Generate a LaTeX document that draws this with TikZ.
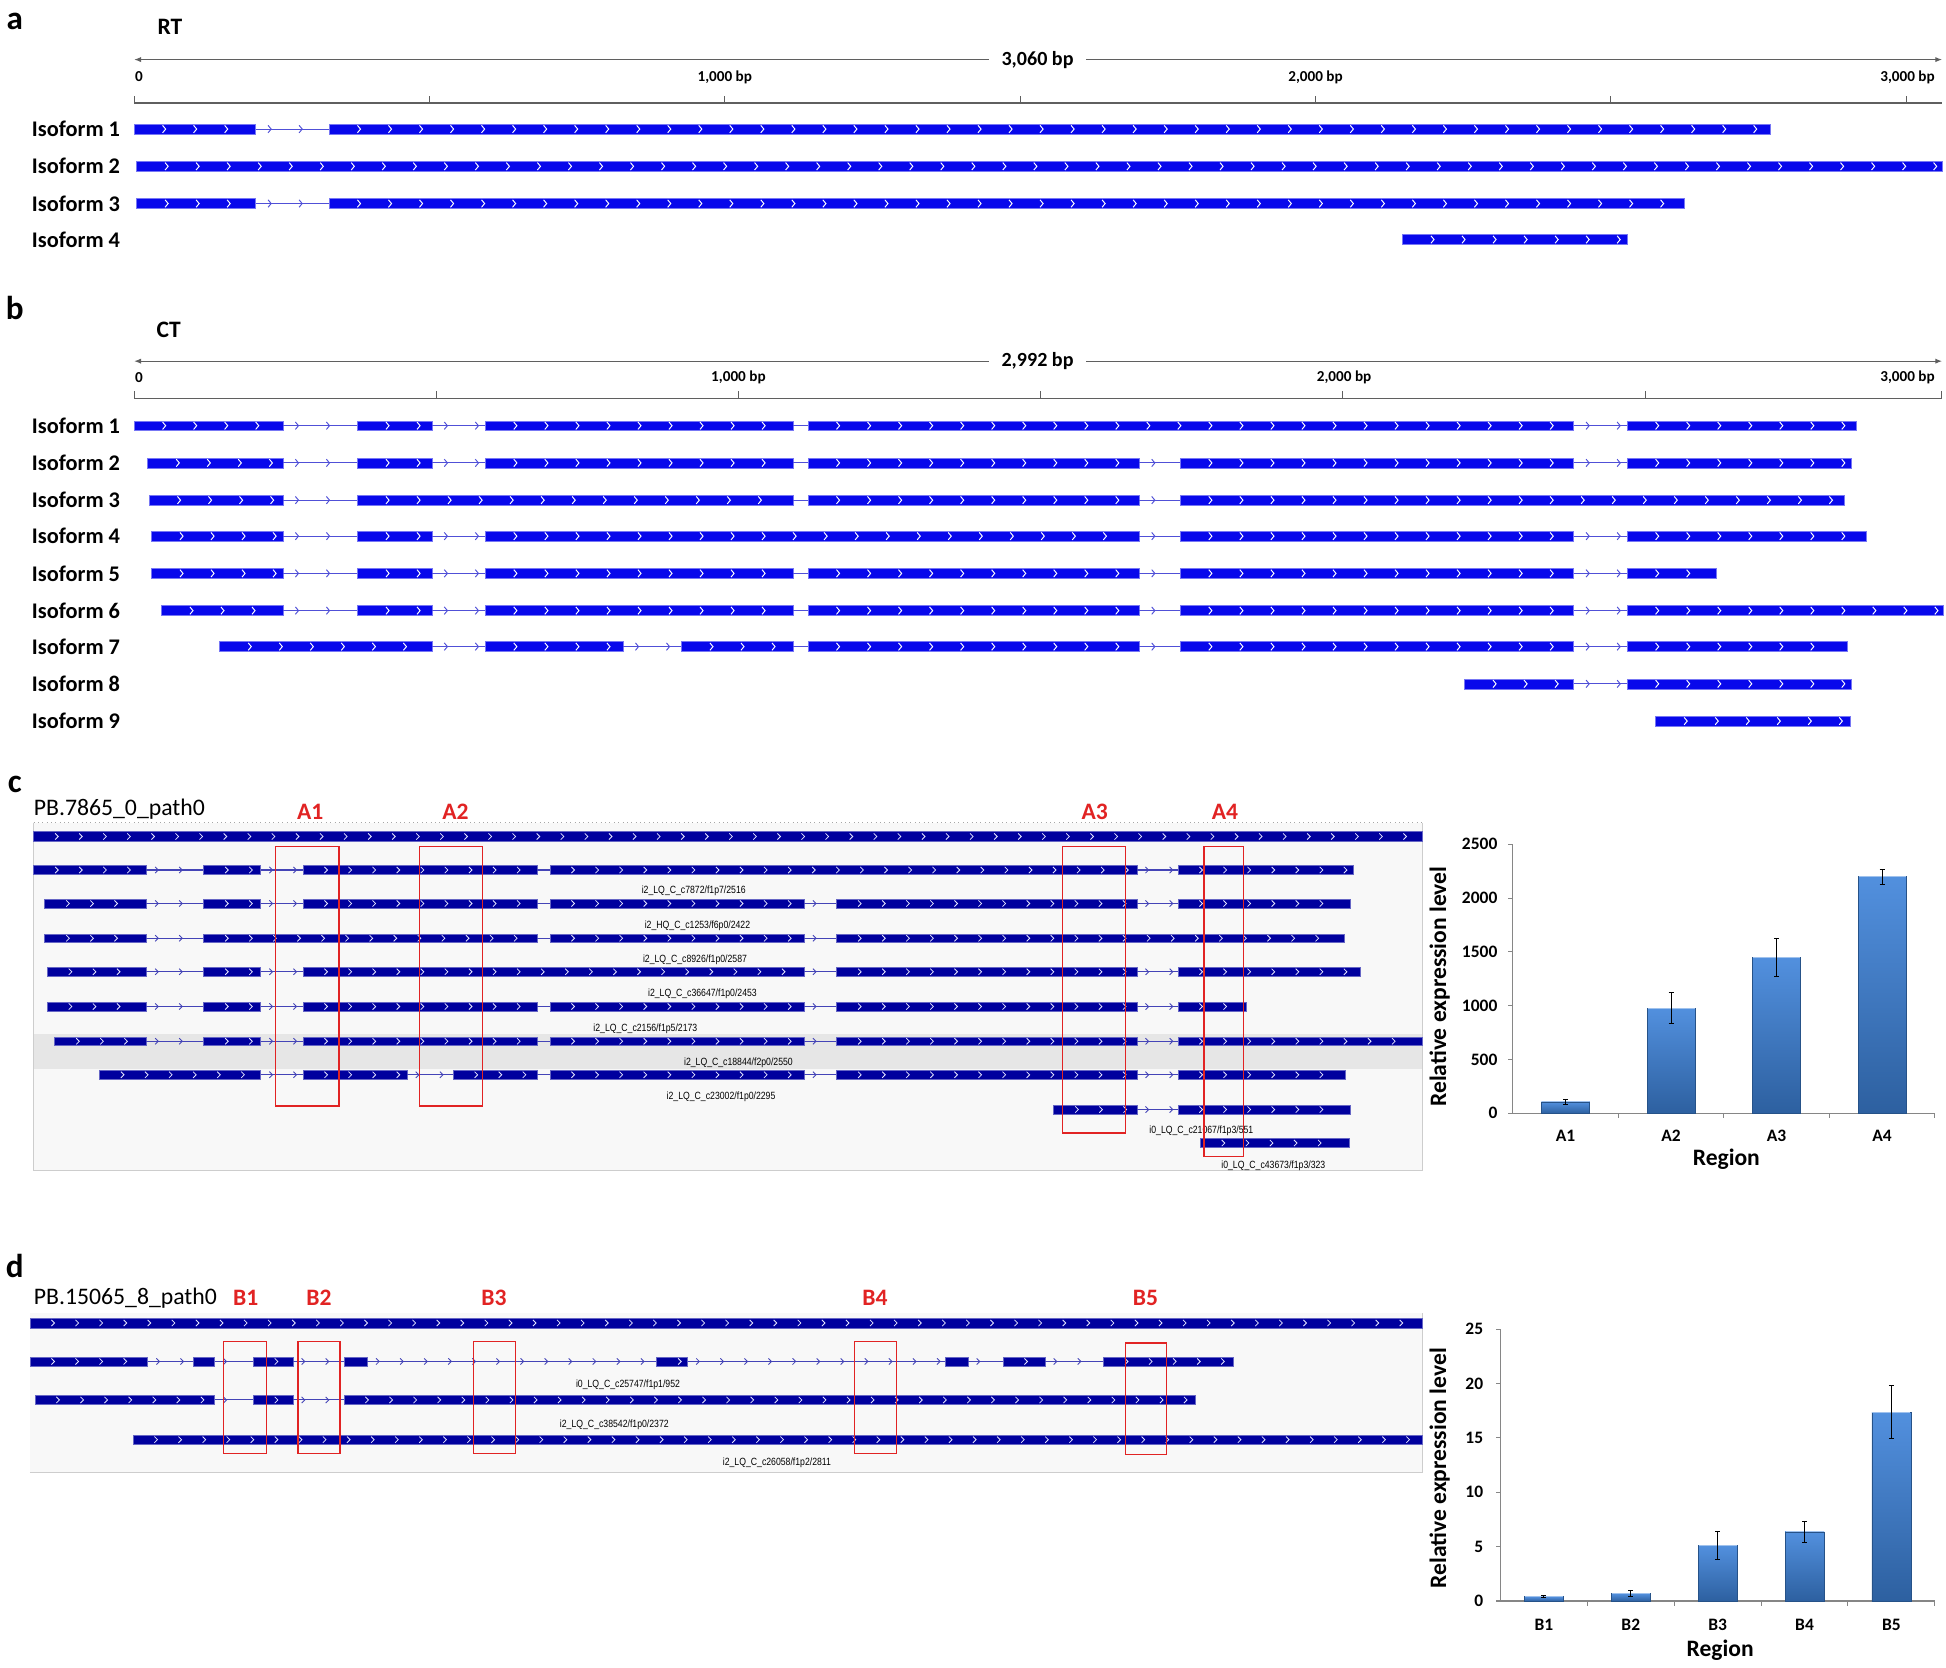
\documentclass[tikz,border=0pt]{standalone}
\usepackage{fontspec}
\setmainfont{Carlito}
\newfontfamily\narrowfont[FakeStretch=0.83]{Liberation Sans}
\usepackage{xcolor}
\usepackage{tikz}
\usetikzlibrary{arrows.meta}

\definecolor{isoblue}{RGB}{8,8,235}
\definecolor{intronblue}{RGB}{80,80,215}
\definecolor{trackblue}{RGB}{0,0,158}
\definecolor{trackbg}{RGB}{248,248,248}
\definecolor{trackband}{RGB}{230,230,230}
\definecolor{trackline}{RGB}{205,205,205}
\definecolor{boxred}{RGB}{225,35,35}
\definecolor{axisgray}{RGB}{95,95,95}
\definecolor{chartgray}{RGB}{134,134,134}
\definecolor{bartopc}{RGB}{82,144,222}
\definecolor{barbotc}{RGB}{45,96,160}

%% one exon: start, end, row
\newcommand{\exon}[3]{%
  \fill[exbar] (#1,{#3-\exh}) rectangle (#2,{#3+\exh});
  \pgfmathtruncatemacro{\nch}{floor((#2-#1-5)/\chsp)}%
  \ifnum\nch>0
    \foreach \k in {1,...,\nch}{%
      \draw[chev] ({#1+\chsp*\k-2},{#3-\chh}) -- ++(2.5,\chh) -- ++(-2.5,\chh);}%
  \fi}
%% one intron: start, end, row
\newcommand{\intron}[3]{%
  \draw[intronline] (#1,#3) -- (#2,#3);
  \pgfmathtruncatemacro{\nch}{floor((#2-#1-\choff-4)/\chsp)}%
  \ifnum\nch<0\relax\else
    \foreach \k in {0,...,\nch}{%
      \draw[chevin] ({#1+\choff+\chsp*\k-1},{#3-\chh}) -- ++(2.5,\chh) -- ++(-2.5,\chh);}%
  \fi}
%% a whole isoform: row, exon list s/e (introns fill the gaps)
\newcommand{\isoform}[2]{%
  \gdef\prevend{}%
  \foreach \s/\e in {#2}{%
    \ifx\prevend\empty\else\intron{\prevend}{\s}{#1}\fi
    \exon{\s}{\e}{#1}%
    \xdef\prevend{\e}}}

\tikzset{
  panellbl/.style={font=\fontsize{19}{21}\selectfont\bfseries, inner sep=0pt},
  grouplbl/.style={font=\fontsize{13.5}{15}\selectfont\bfseries, inner sep=0pt},
  isolbl/.style={font=\fontsize{12.8}{14}\selectfont\bfseries, anchor=east, inner sep=0pt},
  bplbl/.style={font=\fontsize{8.7}{10}\selectfont\bfseries, inner sep=0pt},
  lenlbl/.style={font=\fontsize{11.5}{13}\selectfont\bfseries, fill=white, inner xsep=7pt, inner ysep=1pt},
  pathlbl/.style={font=\fontsize{13.6}{15}\selectfont, anchor=west, inner sep=0pt},
  regionlbl/.style={font=\fontsize{13.5}{15}\selectfont\bfseries, text=boxred, inner sep=0pt},
  readlbl/.style={font=\narrowfont\fontsize{6}{7}\selectfont, inner sep=0pt},
  ticklbl/.style={font=\fontsize{10}{12}\selectfont\bfseries, anchor=east, inner sep=0pt},
  catlbl/.style={font=\fontsize{10}{12}\selectfont\bfseries, inner sep=0pt},
  axttl/.style={font=\fontsize{13.5}{15}\selectfont\bfseries, inner sep=0pt},
  lenaxis/.style={draw=axisgray, line width=0.7pt, {Latex[length=4pt,width=3pt]}-{Latex[length=4pt,width=3pt]}},
  scaleline/.style={draw=axisgray, line width=1pt},
  scaletick/.style={draw=axisgray, line width=0.5pt},
  exbar/.style={fill=isoblue, draw=isoblue!55!white, line width=0.25pt},
  chev/.style={draw=white, line width=0.55pt},
  intronline/.style={draw=intronblue, line width=0.6pt},
  chevin/.style={draw=intronblue, line width=0.55pt},
  redbox/.style={draw=boxred, line width=0.8pt},
  chartaxis/.style={draw=chartgray, line width=0.6pt},
  bar/.style={top color=bartopc, bottom color=barbotc, draw=barbotc!85!black, line width=0.3pt},
  bartop/.style={draw=bartopc!55!white, line width=0.6pt},
  errbar/.style={draw=black, line width=0.6pt},
}

\begin{document}
\begin{tikzpicture}[x=0.025cm, y=-0.025cm]
  \useasboundingbox (0,0) rectangle (1568,1344);
  \def\chsp{25}\def\choff{11}\def\exh{4}\def\chh{3}

  %% ---- a: RT isoforms
  \node[panellbl] (a) at (12,17) {a};
  \node[grouplbl] (rt) at (137,22) {RT};
  \draw[lenaxis] (108,48) -- (1565,48);
  \node[lenlbl] (rtlen) at (836,48) {3,060 bp};
  \draw[scaleline] (108,83) -- (1565,83);
  \foreach \t in {108,346,584,822,1060,1298,1536}
    \draw[scaletick] (\t,83) -- (\t,77);
  \node[bplbl] (rt0) at (112,62) {0};
  \node[bplbl] (rt1k) at (584,62) {1,000 bp};
  \node[bplbl] (rt2k) at (1060,62) {2,000 bp};
  \node[bplbl] (rt3k) at (1537,62) {3,000 bp};
  \foreach \i/\y in {1/104,2/134,3/164,4/193}
    \node[isolbl] (rtiso\i) at (97,\y) {Isoform \i};
  \isoform{104}{108/206,265/1426}
  \isoform{134}{110/1565}
  \isoform{164}{110/206,265/1357}
  \isoform{193}{1130/1311}

  %% ---- b: CT isoforms
  \node[panellbl] (b) at (12,248) {b};
  \node[grouplbl] (ct) at (136,266) {CT};
  \draw[lenaxis] (108,291) -- (1565,291);
  \node[lenlbl] (ctlen) at (836,291) {2,992 bp};
  \draw[scaleline] (108,321) -- (1565,321);
  \foreach \t in {108,351.5,595,838.5,1082,1325.5,1564}
    \draw[scaletick] (\t,321) -- (\t,315);
  \node[bplbl] (ct0) at (112,304) {0};
  \node[bplbl] (ct1k) at (595,304) {1,000 bp};
  \node[bplbl] (ct2k) at (1083,304) {2,000 bp};
  \node[bplbl] (ct3k) at (1537,304) {3,000 bp};
  \foreach \i/\y in {1/343,2/373,3/403,4/432,5/462,6/492,7/521,8/551,9/581}
    \node[isolbl] (ctiso\i) at (97,\y) {Isoform \i};
  \isoform{343}{108/228,288/348,391/639,651/1268,1311/1496}
  \isoform{373}{119/228,288/348,391/639,651/918,951/1268,1311/1492}
  \isoform{403}{120/228,288/639,651/918,951/1486}
  \isoform{432}{122/228,288/348,391/918,951/1268,1311/1504}
  \isoform{462}{122/228,288/348,391/639,651/918,951/1268,1311/1383}
  \isoform{492}{130/228,288/348,391/639,651/918,951/1268,1311/1566}
  \isoform{521}{177/348,391/502,549/639,651/918,951/1268,1311/1488}
  \isoform{551}{1180/1268,1311/1492}
  \isoform{581}{1334/1491}

  %% ---- c: PB.7865 reads and A regions
  \node[panellbl] (c) at (12,632) {c};
  \node[pathlbl] (pbc) at (27,652) {PB.7865\_0\_path0};
  \foreach \n/\x in {1/250,2/367,3/882,4/987}
    \node[regionlbl] (la\n) at (\x,654) {A\n};
  \fill[trackbg] (27,663) rectangle (1146,943);
  \fill[trackband] (27,833) rectangle (1146,861);
  \draw[trackline] (27,663) -- (27,943) -- (1146,943) -- (1146,663);
  \draw[gray!70, dotted, line width=0.5pt] (27,663) -- (1146,663);
  \begin{scope}[exbar/.style={fill=trackblue, draw=trackblue!60!white, line width=0.25pt},
                chev/.style={draw=white!90!blue, line width=0.45pt},
                intronline/.style={draw=intronblue!85!black, line width=0.6pt},
                chevin/.style={draw=intronblue!85!black, line width=0.5pt}]
    \def\chsp{19.4}\def\choff{8}\def\exh{3.5}\def\chh{2.5}
    {\def\exh{4.2}\exon{27}{1146}{674}}
    \isoform{701}{27/118,164/210,244/433,443/916,949/1090}
    \isoform{728}{36/118,164/210,244/433,443/648,674/916,949/1088}
    \isoform{756}{36/118,164/433,443/648,674/1083}
    \isoform{783}{38/118,164/210,244/648,674/916,949/1096}
    \isoform{811}{38/118,164/210,244/433,443/648,674/916,949/1004}
    \isoform{839}{44/118,164/210,244/433,443/648,674/916,949/1146}
    \isoform{866}{80/210,244/328,365/433,443/648,674/916,949/1084}
    \isoform{894}{849/916,949/1088}
    \isoform{921}{967/1087}

    %% panel d tracks share the look
    \fill[trackbg] (24,1058) rectangle (1146,1186);
    \draw[trackline] (24,1186) -- (1146,1186) -- (1146,1058);
    {\def\exh{4.2}\exon{24}{1146}{1066}}
    \isoform{1097}{24/119,156/173,204/236,277/296,529/554,762/780,808/842,889/994}
    \isoform{1128}{28/173,204/236,277/963}
    \isoform{1160}{107/1146}
  \end{scope}
  \node[readlbl] (rc1) at (559,718) {i2\_LQ\_C\_c7872/f1p7/2516};
  \node[readlbl] (rc2) at (562,746) {i2\_HQ\_C\_c1253/f6p0/2422};
  \node[readlbl] (rc3) at (560,773) {i2\_LQ\_C\_c8926/f1p0/2587};
  \node[readlbl] (rc4) at (566,801) {i2\_LQ\_C\_c36647/f1p0/2453};
  \node[readlbl] (rc5) at (520,829) {i2\_LQ\_C\_c2156/f1p5/2173};
  \node[readlbl] (rc6) at (595,856) {i2\_LQ\_C\_c18844/f2p0/2550};
  \node[readlbl] (rc7) at (581,884) {i2\_LQ\_C\_c23002/f1p0/2295};
  \node[readlbl] (rc8) at (968,911) {i0\_LQ\_C\_c21067/f1p3/551};
  \node[readlbl] (rc9) at (1026,939) {i0\_LQ\_C\_c43673/f1p3/323};
  \draw[redbox] (222,682) rectangle (273,891);
  \draw[redbox] (338,682) rectangle (389,891);
  \draw[redbox] (856,682) rectangle (907,913);
  \draw[redbox] (970,682) rectangle (1002,932);

  %% c chart
  \begin{scope}[shift={(1219,897)}, y=0.00216cm]
    \foreach \v in {0,500,...,2500}{
      \draw[chartaxis] (0,\v) -- ++(-2.8pt,0pt);
      \node[ticklbl] (cy\v) at ([xshift=-8.7pt]0,\v) {\v};
    }
    \draw[chartaxis] (0,2500) -- (0,0) -- (340,0);
    \foreach \x in {85,170,255,340}
      \draw[chartaxis] (\x,0) -- ++(0pt,-2.8pt);
    \foreach \i/\c/\v/\lo/\hi in {1/42.5/105/85/125,2/127.5/975/830/1120,
                                  3/212.5/1450/1275/1620,4/297.5/2200/2130/2270}{
      \shade[bar] ({\c-19.4},0) rectangle ({\c+19.4},\v);
      \draw[bartop] ({\c-19},\v) -- ({\c+19},\v);
      \draw[errbar] (\c,\lo) -- (\c,\hi) ({\c-2},\lo) -- ({\c+2},\lo) ({\c-2},\hi) -- ({\c+2},\hi);
      \node[catlbl] (ccat\i) at ([yshift=-12.8pt]\c,0) {A\i};
    }
  \end{scope}
  \node[axttl, rotate=90] (cyt) at (1160,795) {Relative expression level};
  \node[axttl] (cxt) at (1391,934) {Region};

  %% ---- d: PB.15065 reads and B regions
  \node[panellbl] (d) at (12,1020) {d};
  \node[pathlbl] (pbd) at (27,1046) {PB.15065\_8\_path0};
  \foreach \n/\x in {1/198,2/257,3/398,4/705,5/923}
    \node[regionlbl] (lb\n) at (\x,1046) {B\n};
  \node[readlbl] (rd1) at (506,1116) {i0\_LQ\_C\_c25747/f1p1/952};
  \node[readlbl] (rd2) at (495,1148) {i2\_LQ\_C\_c38542/f1p0/2372};
  \node[readlbl] (rd3) at (626,1179) {i2\_LQ\_C\_c26058/f1p2/2811};
  \draw[redbox] (180,1081) rectangle (214.5,1171);
  \draw[redbox] (240,1081) rectangle (274,1171);
  \draw[redbox] (381.6,1081) rectangle (415.6,1171);
  \draw[redbox] (688.5,1081) rectangle (722.3,1171);
  \draw[redbox] (907,1082) rectangle (940,1172);

  %% d chart
  \begin{scope}[shift={(1209,1290)}, y=0.219cm]
    \foreach \v in {0,5,...,25}{
      \draw[chartaxis] (0,\v) -- ++(-2.8pt,0pt);
      \node[ticklbl] (dy\v) at ([xshift=-9.7pt]0,\v) {\v};
    }
    \draw[chartaxis] (0,25) -- (0,0) -- (350,0);
    \foreach \x in {70,140,210,280,350}
      \draw[chartaxis] (\x,0) -- ++(0pt,-2.8pt);
    \foreach \i/\c/\v/\lo/\hi in {1/35/0.4/0.3/0.5,2/105/0.7/0.45/0.95,3/175/5.1/3.85/6.35,
                                  4/245/6.35/5.35/7.35,5/315/17.35/14.9/19.8}{
      \shade[bar] ({\c-15.7},0) rectangle ({\c+15.7},\v);
      \draw[bartop] ({\c-15.3},\v) -- ({\c+15.3},\v);
      \draw[errbar] (\c,\lo) -- (\c,\hi) ({\c-2},\lo) -- ({\c+2},\lo) ({\c-2},\hi) -- ({\c+2},\hi);
      \node[catlbl] (dcat\i) at ([yshift=-13.5pt]\c,0) {B\i};
    }
  \end{scope}
  \node[axttl, rotate=90] (dyt) at (1160,1183) {Relative expression level};
  \node[axttl] (dxt) at (1386,1330) {Region};
\end{tikzpicture}
\end{document}
